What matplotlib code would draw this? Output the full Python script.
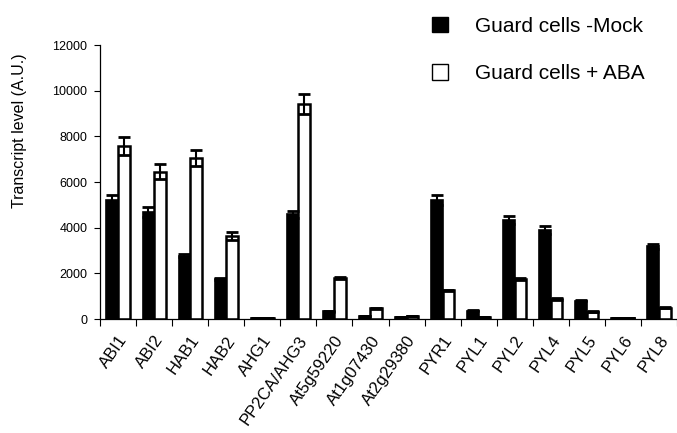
import numpy as np
import matplotlib
matplotlib.use('Agg')
import matplotlib.pyplot as plt
from matplotlib.patches import Patch

genes = ['ABI1', 'ABI2', 'HAB1', 'HAB2', 'AHG1', 'PP2CA/AHG3', 'At5g59220',
         'At1g07430', 'At2g29380', 'PYR1', 'PYL1', 'PYL2', 'PYL4', 'PYL5',
         'PYL6', 'PYL8']
mock = [5210, 4700, 2780, 1750, 40, 4590, 330, 130, 70, 5220, 370, 4350,
        3910, 800, 30, 3180]
mock_err = [220, 220, 60, 30, 0, 160, 20, 10, 0, 220, 10, 170, 170, 20, 0, 120]
aba = [7580, 6450, 7040, 3650, 40, 9400, 1780, 470, 140, 1250, 70, 1750,
       860, 320, 30, 500]
aba_err = [380, 330, 340, 170, 0, 440, 50, 30, 0, 40, 0, 60, 40, 30, 0, 40]
yticks = [0, 2000, 4000, 6000, 8000, 10000, 12000]

plt.rcParams['font.family'] = ['Liberation Sans', 'DejaVu Sans']

fig = plt.figure(figsize=(6.77, 4.33), dpi=100)
ax = fig.add_axes([100 / 677, 1 - 319 / 433, 577 / 677, 274 / 433])

x = np.arange(len(genes))
w = 0.32
ax.bar(x - w / 2, mock, w, color='black', edgecolor='black', linewidth=1.2)
ax.bar(x + w / 2, aba, w, color='white', edgecolor='black', linewidth=1.8)
ax.errorbar(x - w / 2, mock, yerr=mock_err, fmt='none', ecolor='black',
            elinewidth=1.5, capsize=4, capthick=2)
ax.errorbar(x + w / 2, aba, yerr=aba_err, fmt='none', ecolor='black',
            elinewidth=1.5, capsize=4, capthick=2)

ax.set_xlim(-0.5, len(genes) - 0.5)
ax.set_ylim(0, 12000)
ax.set_yticks(yticks)
ax.set_yticklabels([str(v) for v in yticks], fontsize=9)
ax.tick_params(axis='y', direction='out', length=4, width=0.8, pad=5)

ax.set_xticks(x)
ax.set_xticklabels(genes, fontsize=12, rotation=55, ha='right',
                   rotation_mode='anchor')
ax.tick_params(axis='x', which='major', length=0, pad=10)
ax.set_xticks(np.arange(-0.5, len(genes), 1), minor=True)
ax.tick_params(axis='x', which='minor', direction='out', length=5, width=0.8)

for s in ['top', 'right']:
    ax.spines[s].set_visible(False)
for s in ['left', 'bottom']:
    ax.spines[s].set_linewidth(0.9)

ax.set_ylabel('Transcript level (A.U.)', fontsize=11.5)
ax.yaxis.set_label_coords(-0.127, 0.686)

handles = [Patch(facecolor='black', edgecolor='black'),
           Patch(facecolor='white', edgecolor='black', linewidth=1)]
fig.legend(handles, ['Guard cells -Mock', 'Guard cells + ABA'],
           loc='upper left', bbox_to_anchor=(432 / 677, 1 - 17 / 433),
           frameon=False, fontsize=15, handlelength=0.75, handleheight=0.75,
           handletextpad=1.3, labelspacing=1.36, borderpad=0, borderaxespad=0)

fig.savefig('out.png', dpi=100)
